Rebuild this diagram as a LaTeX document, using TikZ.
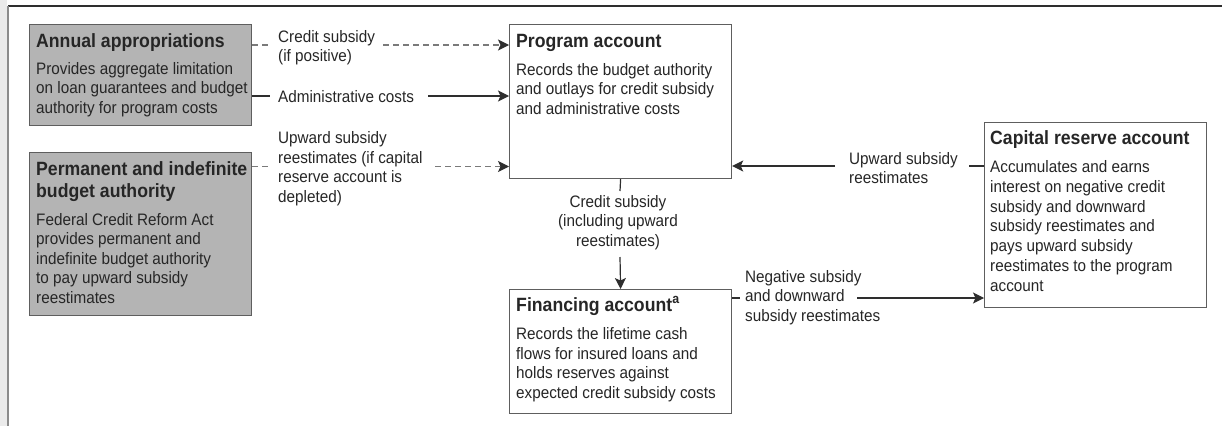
\documentclass[tikz,border=0pt]{standalone}
\usepackage{fontspec}
\setmainfont{Liberation Sans}[FakeStretch=0.92]
\usetikzlibrary{arrows.meta}
\definecolor{txt}{HTML}{262626}
\definecolor{boxgray}{HTML}{B4B4B4}
\definecolor{edge}{HTML}{5E5E5E}
\definecolor{dashc}{HTML}{7A7A7A}
\definecolor{lnc}{HTML}{2E2E2E}
\definecolor{strip}{HTML}{EBEBEB}
\newcommand{\mylines}[1]{\begin{tabular}[t]{@{}l@{}}#1\end{tabular}}
\newcommand{\mycent}[1]{\begin{tabular}[t]{@{}c@{}}#1\end{tabular}}
\begin{document}
\begin{tikzpicture}[x=1pt,y=-1pt,
  box/.style={draw=edge, line width=1.2pt, minimum width=222pt, inner sep=0pt, anchor=north west, fill=white},
  graybox/.style={box, fill=boxgray},
  ttl/.style={font=\fontsize{19.2}{22}\selectfont\bfseries, text=txt, inner sep=0pt, anchor=base west},
  bdy/.style={font=\fontsize{16.6}{19.5}\selectfont, text=txt, inner sep=0pt, anchor=base west},
  bdyc/.style={bdy, anchor=base},
  solidln/.style={draw=lnc, line width=1.2pt},
  dashln/.style={draw=dashc, line width=1.2pt, dash pattern=on 6pt off 4pt},
  tip/.style={-{Stealth[length=11pt,width=11pt,inset=2.5pt,color=lnc]}},
]
\path[use as bounding box] (0,0) rectangle (1222,426);
\fill[strip] (0,0) rectangle (7,426);
\draw[draw=lnc, line width=1.6pt] (8,6) -- (1222,6);
\draw[draw=black!45, line width=2pt] (8,6) -- (8,426);

% boxes
\node[graybox, minimum height=101pt] (ann) at (29,24) {};
\node[ttl] (annT) at (36,47) {Annual appropriations};
\node[bdy] (annB) at (36,74) {\mylines{Provides aggregate limitation\\on loan guarantees and budget\\authority for program costs}};

\node[graybox, minimum height=163pt] (perm) at (29,152) {};
\node[ttl] (permT) at (36,175) {\mylines{Permanent and indefinite\\budget authority}};
\node[bdy] (permB) at (36,225) {\mylines{Federal Credit Reform Act\\provides permanent and\\indefinite budget authority\\to pay upward subsidy\\reestimates}};

\node[box, minimum height=154pt] (prog) at (509,24) {};
\node[ttl] (progT) at (516,47) {Program account};
\node[bdy] (progB) at (516,75) {\mylines{Records the budget authority\\and outlays for credit subsidy\\and administrative costs}};

\node[box, minimum height=124pt] (fin) at (509,289) {};
\node[ttl] (finT) at (516,311.5) {Financing account\textsuperscript{a}};
\node[bdy] (finB) at (516,339.5) {\mylines{Records the lifetime cash\\flows for insured loans and\\holds reserves against\\expected credit subsidy costs}};

\node[box, minimum height=185pt] (cap) at (984,122) {};
\node[ttl] (capT) at (990,144) {Capital reserve account};
\node[bdy, font=\fontsize{16.6}{19.8}\selectfont] (capB) at (990,172.5) {\mylines{Accumulates and earns\\interest on negative credit\\subsidy and downward\\subsidy reestimates and\\pays upward subsidy\\reestimates to the program\\account}};

% labels
\node[bdy] (l1) at (278,42) {\mylines{Credit subsidy\\(if positive)}};
\node[bdy] (l2) at (278,102.5) {Administrative costs};
\node[bdy] (l3) at (278,143.5) {\mylines{Upward subsidy\\reestimates (if capital\\reserve account is\\depleted)}};
\node[bdyc] (l4) at (618,207) {\mycent{Credit subsidy\\(including upward\\reestimates)}};
\node[bdy] (l5) at (849,164) {\mylines{Upward subsidy\\reestimates}};
\node[bdy] (l6) at (745,282) {\mylines{Negative subsidy\\and downward\\subsidy reestimates}};

% connector end points
\coordinate (a1) at (270,45);  \coordinate (b1) at (383,45);
\coordinate (a2) at (270,96);  \coordinate (b2) at (428,96);
\coordinate (a3) at (270,166.5); \coordinate (b3) at (435,166.5);
\coordinate (a4) at (620,191); \coordinate (b4) at (620,257);
\coordinate (a5) at (969,166); \coordinate (b5) at (835,166);
\coordinate (a6) at (740,298); \coordinate (b6) at (857,298);

% connectors
\draw[dashln] (ann.east |- a1) -- (a1);
\draw[dashln, tip] (b1) -- (prog.west |- b1);
\draw[solidln] (ann.east |- a2) -- (a2);
\draw[solidln, tip] (b2) -- (prog.west |- b2);
\draw[dashln] (perm.east |- a3) -- (a3);
\draw[dashln, tip] (b3) -- (prog.west |- b3);
\draw[solidln] (prog.south) -- (a4);
\draw[solidln, tip] (b4) -- (fin.north);
\draw[solidln] (cap.west |- a5) -- (a5);
\draw[solidln, tip] (b5) -- (prog.east |- b5);
\draw[solidln] (fin.east |- a6) -- (a6);
\draw[solidln, tip] (b6) -- (cap.west |- b6);
\end{tikzpicture}
\end{document}
